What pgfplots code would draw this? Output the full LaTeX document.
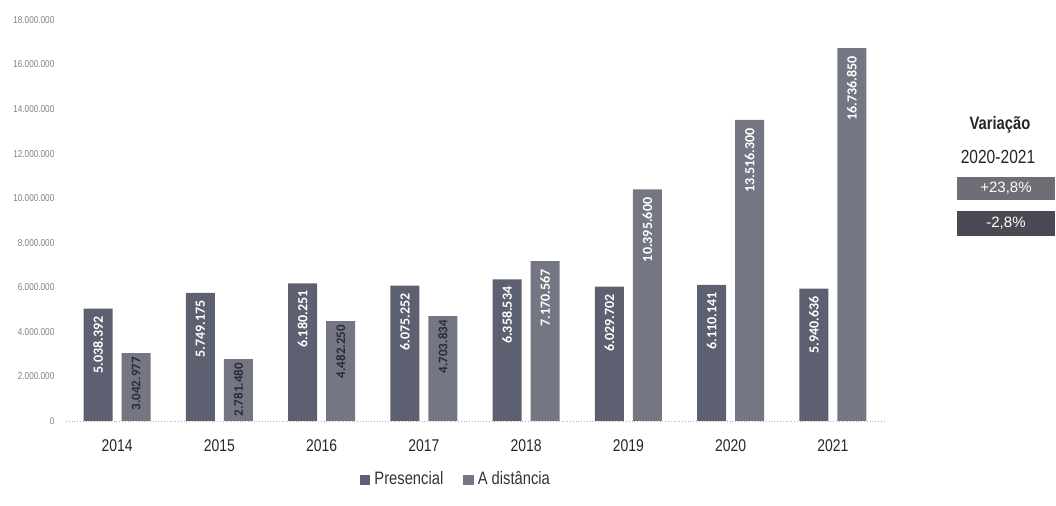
\documentclass[border=0pt]{standalone}
\usepackage{fontspec}
\setmainfont{Liberation Sans}
\newfontfamily\narrow[FakeStretch=0.82]{Liberation Sans}
\newfontfamily\carl{Carlito}
\usepackage{pgfplots}
\usepackage{pgfplotstable}
\pgfplotsset{compat=1.18}
\definecolor{pres}{HTML}{5D6070}
\definecolor{dist}{HTML}{747683}
\definecolor{boxA}{HTML}{6E6E77}
\definecolor{boxB}{HTML}{4A4A55}
\definecolor{darklab}{HTML}{2A2A35}

\pgfplotstableread{
x p plab
0 5038392 5.038.392
1 5749175 5.749.175
2 6180251 6.180.251
3 6075252 6.075.252
4 6358534 6.358.534
5 6029702 6.029.702
6 6110141 6.110.141
7 5940636 5.940.636
}\presdata
\pgfplotstableread{
x d dlab
0 3042977 3.042.977
1 2781480 2.781.480
2 4482250 4.482.250
3 4703834 4.703.834
}\distearly
\pgfplotstableread{
x d dlab
4 7170567 7.170.567
5 10395600 10.395.600
6 13516300 13.516.300
7 16736850 16.736.850
}\distlate

\begin{document}
\begin{tikzpicture}
\begin{axis}[
  at={(0,0)}, anchor=south west, scale only axis,
  width=409pt, height=200.5pt,
  xmin=-0.5, xmax=7.5, ymin=0, ymax=18000000,
  ybar, bar width=14.5pt,
  axis line style={draw=none},
  major tick length=0pt,
  clip=false,
  xtick={0,1,2,3,4,5,6,7},
  xticklabels={2014,2015,2016,2017,2018,2019,2020,2021},
  x tick label style={font=\narrow\fontsize{8.5}{10}\selectfont, yshift=-5.7pt, text=black!85},
  ytick={0,2000000,4000000,6000000,8000000,10000000,12000000,14000000,16000000,18000000},
  yticklabels={0,2.000.000,4.000.000,6.000.000,8.000.000,10.000.000,12.000.000,14.000.000,16.000.000,18.000.000},
  scaled y ticks=false,
  y tick label style={font=\narrow\fontsize{5}{6}\selectfont, text=black!50, xshift=-2.3pt},
  legend columns=2,
  legend style={at={(0.478,-0.147)}, anchor=center, draw=none, fill=none,
    font=\narrow\fontsize{9}{10}\selectfont, text=black!80,
    /tikz/every even column/.append style={column sep=8pt}},
]
\addplot[fill=pres, draw=none, bar shift=-9.5pt,
  legend image code/.code={\fill[fill=pres] (0pt,-2.6pt) rectangle (5.2pt,2.6pt);},
  point meta=explicit symbolic, nodes near coords,
  every node near coord/.append style={rotate=90, anchor=east, text=white,
    font=\carl\bfseries\fontsize{7}{8}\selectfont, inner xsep=3.5pt, inner ysep=0pt}]
  table[x=x, y=p, meta=plab]{\presdata};
\addplot[fill=dist, draw=none, bar shift=9.5pt,
  legend image code/.code={\fill[fill=dist] (0pt,-2.6pt) rectangle (5.2pt,2.6pt);},
  point meta=explicit symbolic, nodes near coords,
  every node near coord/.append style={rotate=90, anchor=east, text=darklab,
    font=\carl\bfseries\fontsize{6.5}{8}\selectfont, inner xsep=1.8pt, inner ysep=0pt}]
  table[x=x, y=d, meta=dlab]{\distearly};
\addplot[fill=dist, draw=none, bar shift=9.5pt, forget plot,
  point meta=explicit symbolic, nodes near coords,
  every node near coord/.append style={rotate=90, anchor=east, text=white,
    font=\carl\bfseries\fontsize{7}{8}\selectfont, inner xsep=4pt, inner ysep=0pt}]
  table[x=x, y=d, meta=dlab]{\distlate};
\legend{Presencial, A distância}
\draw[black!30, densely dotted] (axis cs:-0.5,0) -- (axis cs:7.5,0);
\end{axis}
\node[font=\narrow\bfseries\fontsize{9}{10}\selectfont, text=black!85] at (467pt,148pt) {Variação};
\node[font=\narrow\fontsize{9.5}{11}\selectfont, text=black!85] at (466pt,132pt) {2020-2021};
\fill[boxA] (445.5pt,110.5pt) rectangle (494.5pt,122pt);
\node[font=\fontsize{7.5}{9}\selectfont, text=white] at (470pt,116.25pt) {+23,8\%};
\fill[boxB] (445.5pt,92.5pt) rectangle (494.5pt,105pt);
\node[font=\fontsize{7.5}{9}\selectfont, text=white] at (470pt,98.75pt) {-2,8\%};
\pgfresetboundingbox
\path[use as bounding box] (-33pt,-42.5pt) rectangle (495pt,210.5pt);
\end{tikzpicture}
\end{document}
